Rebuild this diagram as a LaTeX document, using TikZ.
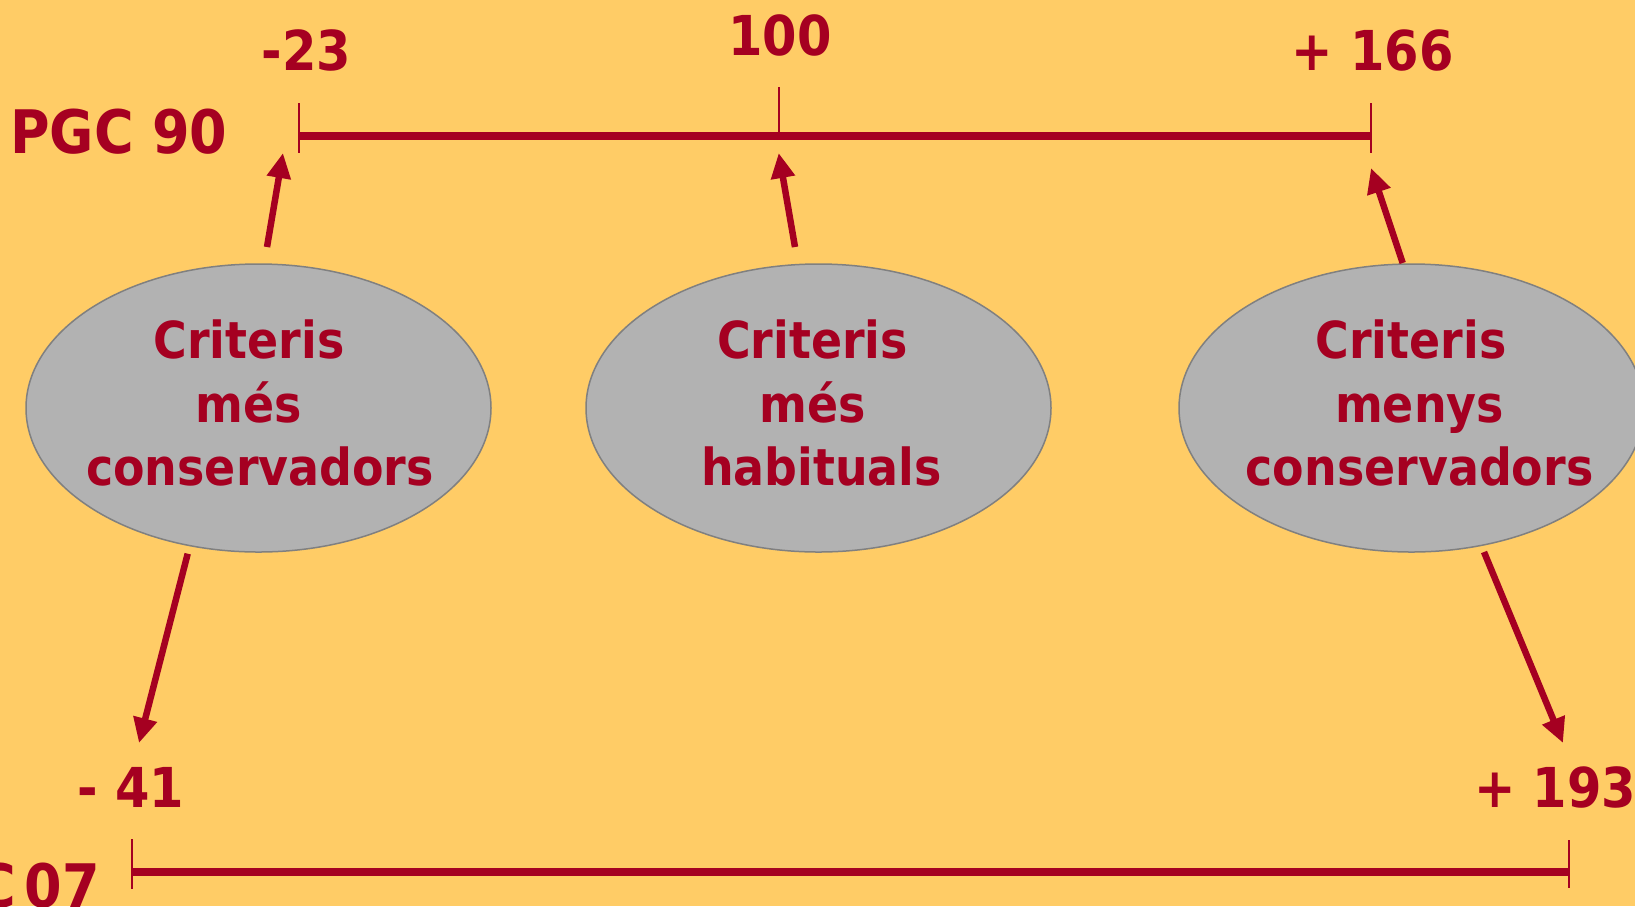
\documentclass[tikz,border=0pt]{standalone}
\usepackage{fontspec}
\setmainfont{DejaVu Sans Condensed}[BoldFont={DejaVu Sans Condensed Bold}]
\usetikzlibrary{arrows.meta,shapes.geometric}
\definecolor{bg}{RGB}{255,204,102}
\definecolor{dred}{RGB}{165,0,33}
\definecolor{egray}{RGB}{178,178,178}
\definecolor{eborder}{RGB}{128,128,128}
\begin{document}
\begin{tikzpicture}[x=1pt,y=-1pt,
  num/.style={text=dred,font=\bfseries\fontsize{55}{66}\selectfont,inner sep=0pt,anchor=base},
  big/.style={text=dred,font=\bfseries\fontsize{60}{72}\selectfont,inner sep=0pt},
  oval/.style={ellipse,fill=egray,draw=eborder,line width=1.5pt,minimum width=465pt,minimum height=288pt,inner sep=0pt},
  txt/.style={text=dred,font=\bfseries\fontsize{51}{63.5}\selectfont,align=center,inner sep=0pt},
  axis/.style={draw=dred,line width=8pt},
  tick/.style={draw=dred,line width=2.5pt},
  arr/.style={draw=dred,line width=6.5pt,-{Triangle[length=25pt,width=23pt]}}]
\useasboundingbox (0,0) rectangle (1635,906);
\fill[bg] (0,0) rectangle (1635,906);
\clip (0,0) rectangle (1635,906);
% axes
\coordinate (top1) at (299,135.5);
\coordinate (top2) at (1371,135.5);
\coordinate (topm) at (779,135.5);
\coordinate (bot1) at (132,872);
\coordinate (bot2) at (1569,872);
\draw[axis] (top1) -- (top2);
\draw[axis] (bot1) -- (bot2);
\draw[tick] (299,103) -- (299,153);
\draw[tick] (1371,103) -- (1371,153);
\draw[tick] (779,87) -- (topm);
\draw[tick] (132,839) -- (132,889);
\draw[tick] (1569,840) -- (1569,888);
% labels
\node[big,anchor=base west] (pgc90) at (10,153) {PGC 90};
\node[big,anchor=base east] (pgc07) at (100,907) {PGC\hspace{9pt}07};
\node[num] (n23) at (306.5,70) {-23};
\node[num] (n100) at (780,55) {100};
\node[num] (n166) at (1372.5,70) {+ 166};
\node[num] (n41) at (131,807) {- 41};
\node[num] (n193) at (1555,807) {+ 193};
% ellipses
\node[oval] (e1) at (258.5,408) {};
\node[oval] (e2) at (818.5,408) {};
\node[oval] (e3) at (1411.5,408) {};
\node[txt] (t1) at (260,403) {Criteris\hspace*{22pt}\null\\més\hspace*{22pt}\null\\conservadors};
\node[txt] (t2) at (821.5,403) {Criteris\hspace*{18pt}\null\\més\hspace*{18pt}\null\\habituals};
\node[txt] (t3) at (1419.5,403) {Criteris\hspace*{17pt}\null\\menys\\conservadors};
% arrows
\coordinate (a1s) at (267,247);   \coordinate (a1e) at (283,153);
\coordinate (a2s) at (795,247);   \coordinate (a2e) at (778.7,153);
\coordinate (a3s) at (1402.7,263);\coordinate (a3e) at (1371,168);
\coordinate (a4s) at (187.7,553.7);\coordinate (a4e) at (139,743);
\coordinate (a5s) at (1484,552);  \coordinate (a5e) at (1563,743);
\draw[arr] (a1s) -- (a1e);
\draw[arr] (a2s) -- (a2e);
\draw[arr] (a3s) -- (a3e);
\draw[arr] (a4s) -- (a4e);
\draw[arr] (a5s) -- (a5e);
\end{tikzpicture}
\end{document}
